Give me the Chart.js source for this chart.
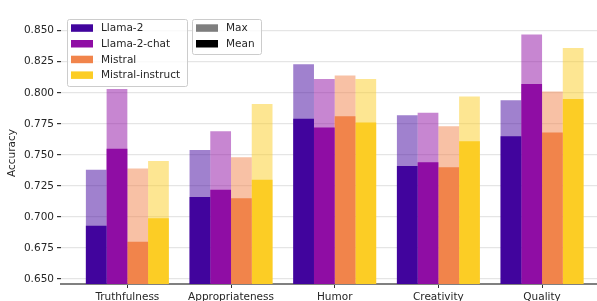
<!DOCTYPE html>
<html>
<head>
<meta charset="utf-8">
<script src="https://cdn.jsdelivr.net/npm/chart.js@4/dist/chart.umd.min.js"></script>
<style>
  html, body { margin: 0; padding: 0; background: #fff; }
  #wrap { width: 597px; height: 301px; position: relative; }
</style>
</head>
<body>
<div id="wrap"><canvas id="accChart"></canvas></div>
<script>
const categories = ['Truthfulness', 'Appropriateness', 'Humor', 'Creativity', 'Quality'];
const models = ['Llama-2', 'Llama-2-chat', 'Mistral', 'Mistral-instruct'];
const yTicks = [0.650, 0.675, 0.700, 0.725, 0.750, 0.775, 0.800, 0.825, 0.850];

// mean accuracy per category
const llama2_mean = [0.693, 0.716, 0.779, 0.741, 0.765];
const llama2chat_mean = [0.755, 0.722, 0.772, 0.744, 0.807];
const mistral_mean = [0.680, 0.715, 0.781, 0.740, 0.768];
const mistralinst_mean = [0.699, 0.730, 0.776, 0.761, 0.795];

// max accuracy per category
const llama2_max = [0.738, 0.754, 0.823, 0.782, 0.794];
const llama2chat_max = [0.803, 0.769, 0.811, 0.784, 0.847];
const mistral_max = [0.739, 0.748, 0.814, 0.773, 0.801];
const mistralinst_max = [0.745, 0.791, 0.811, 0.797, 0.836];

const colors = ['#41049d', '#8f0da4', '#f1844b', '#fccd25'];
const meanSets = [llama2_mean, llama2chat_mean, mistral_mean, mistralinst_mean];
const maxSets = [llama2_max, llama2chat_max, mistral_max, mistralinst_max];

function toPoints(values) {
  return values.map((v, i) => ({ x: i, y: v }));
}

function hexAlpha(hex, a) {
  const n = parseInt(hex.slice(1), 16);
  return `rgba(${(n >> 16) & 255}, ${(n >> 8) & 255}, ${n & 255}, ${a})`;
}

const datasets = [];
// mean first so they are drawn on top of the max bars
meanSets.forEach((vals, i) => {
  datasets.push({ label: models[i] + ' mean', data: toPoints(vals), backgroundColor: colors[i], stack: 's' + i });
});
maxSets.forEach((vals, i) => {
  datasets.push({ label: models[i] + ' max', data: toPoints(vals), backgroundColor: hexAlpha(colors[i], 0.5), stack: 's' + i });
});

const FONT = { family: 'DejaVu Sans', size: 10.5 };

function drawLegendBox(ctx, x, y, w, h, items) {
  ctx.save();
  ctx.fillStyle = 'rgba(255,255,255,0.8)';
  ctx.strokeStyle = '#cccccc';
  ctx.lineWidth = 1;
  ctx.beginPath();
  ctx.roundRect(x + 0.5, y + 0.5, w, h, 2);
  ctx.fill();
  ctx.stroke();
  ctx.font = `${FONT.size}px ${FONT.family}`;
  ctx.textBaseline = 'middle';
  items.forEach((it, i) => {
    const cy = y + 9 + i * 15.7;
    ctx.fillStyle = it[1];
    ctx.fillRect(x + 4, cy - 3.7, 22, 7.5);
    ctx.fillStyle = '#262626';
    ctx.fillText(it[0], x + 34, cy + 0.5);
  });
  ctx.restore();
}

const legendPlugin = {
  id: 'twoLegends',
  afterDraw(chart) {
    const ctx = chart.ctx;
    drawLegendBox(ctx, 67, 19, 120, 67, models.map((m, i) => [m, colors[i]]));
    drawLegendBox(ctx, 192, 19, 69, 35, [['Max', 'rgba(0,0,0,0.5)'], ['Mean', '#000000']]);
  }
};

new Chart(document.getElementById('accChart'), {
  type: 'bar',
  data: { datasets: datasets },
  options: {
    responsive: true,
    maintainAspectRatio: false,
    animation: false,
    categoryPercentage: 0.8,
    barPercentage: 1.0,
    layout: { padding: { top: 22, left: 0, right: 0, bottom: 0 } },
    plugins: { legend: { display: false }, tooltip: { enabled: false } },
    scales: {
      x: {
        type: 'linear',
        stacked: true,
        offset: false,
        min: -0.64,
        max: 4.53,
        afterBuildTicks: (axis) => { axis.ticks = categories.map((c, i) => ({ value: i })); },
        afterFit: (axis) => { axis.height = 17; },
        ticks: {
          callback: (v) => categories[v],
          font: FONT,
          color: '#262626',
          padding: 3,
          maxRotation: 0,
          autoSkip: false
        },
        grid: { drawOnChartArea: false, drawTicks: true, tickLength: 4, tickColor: '#333333', offset: false },
        border: { display: true, color: '#808080', width: 2 }
      },
      y: {
        stacked: false,
        min: 0.646,
        max: 0.857,
        afterBuildTicks: (axis) => { axis.ticks = yTicks.map(v => ({ value: v })); },
        afterFit: (axis) => { axis.width = 61; },
        ticks: {
          callback: (v) => v.toFixed(3),
          font: FONT,
          color: '#262626',
          padding: 3
        },
        title: { display: true, text: 'Accuracy', font: FONT, color: '#262626', padding: { top: 6, bottom: 0 } },
        grid: { color: '#e5e5e5', lineWidth: 1.2, tickLength: 4, tickColor: '#333333' },
        border: { display: false }
      }
    }
  },
  plugins: [legendPlugin]
});
</script>
</body>
</html>
